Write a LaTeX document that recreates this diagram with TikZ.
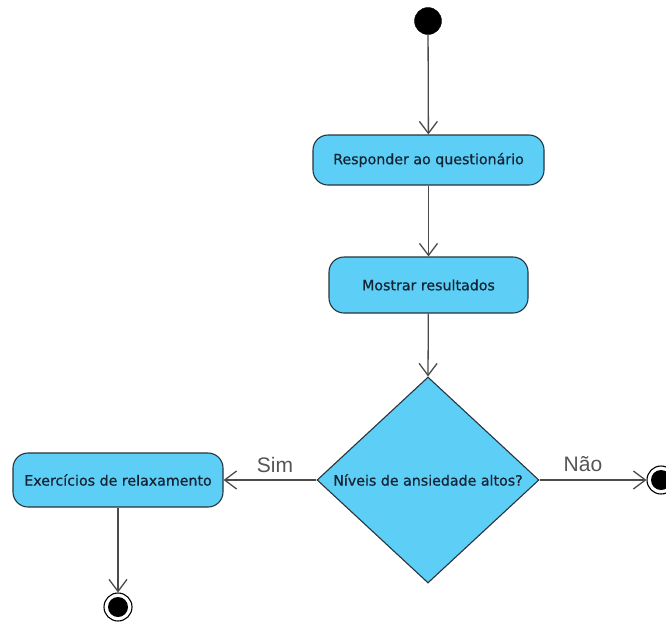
\documentclass[tikz,border=0pt]{standalone}
\usepackage{fontspec}
\setmainfont{DejaVu Sans}
\newfontfamily\actfont[FakeBold=0.6]{DejaVu Sans}
\newfontfamily\labelfont{Liberation Sans}
\usetikzlibrary{arrows.meta,shapes.geometric}
\definecolor{actfill}{RGB}{93,206,245}
\definecolor{actline}{RGB}{40,52,62}
\definecolor{actText}{RGB}{20,36,52}
\definecolor{flowline}{RGB}{75,75,75}
\definecolor{guardText}{RGB}{85,85,85}
\begin{document}
\begin{tikzpicture}[x=1pt,y=-1pt,
  action/.style={draw=actline, line width=1.1pt, fill=actfill, rounded corners=15pt,
    text=actText, font=\actfont\fontsize{14.2}{17}\selectfont, inner sep=0pt},
  decision/.style={draw=actline, line width=1.1pt, fill=actfill, diamond, inner sep=0pt,
    text=actText, font=\actfont\fontsize{14.2}{17}\selectfont},
  initnode/.style={circle, fill=black, draw=black, minimum size=27pt, inner sep=0pt},
  finalnode/.style={circle, draw=black, line width=1.1pt, fill=white, minimum size=28pt, inner sep=0pt,
    path picture={\fill[black] (path picture bounding box.center) circle (10pt);}},
  flow/.style={draw=flowline, line width=1.3pt,
    -{Straight Barb[length=12pt,width=18pt,line width=1.3pt]}},
  guard/.style={text=guardText, font=\labelfont\fontsize{21}{24}\selectfont, inner sep=0pt}]
  \useasboundingbox (0,0) rectangle (666,622);
  \clip (0,0) rectangle (666,622);

  % activity nodes
  \node[initnode] (start) at (428,21) {};
  \node[action, minimum width=231pt, minimum height=50pt] (resp) at (428.5,160) {Responder ao questionário};
  \node[action, minimum width=199pt, minimum height=56pt] (most) at (428.5,285) {Mostrar resultados};
  \node[decision, minimum width=222pt, minimum height=206pt] (dec) at (428,480) {Níveis de ansiedade altos?};
  \node[action, minimum width=210pt, minimum height=54pt] (exer) at (118,480) {Exercícios de relaxamento};
  \node[finalnode] (end1) at (118,607) {};
  \node[finalnode] (end2) at (661,480) {};

  % guard labels
  \node[guard] (sim) at (275,465) {Sim};
  \node[guard] (nao) at (583,464) {Não};

  % control flows
  \draw[flow] (start) -- (resp);
  \draw[flow] (resp) -- (most);
  \draw[flow] (most) -- (dec.north);
  \draw[flow] (dec.west) -- (exer.east);
  \draw[flow] (dec.east) -- (end2);
  \draw[flow] (exer) -- (end1);
\end{tikzpicture}
\end{document}
